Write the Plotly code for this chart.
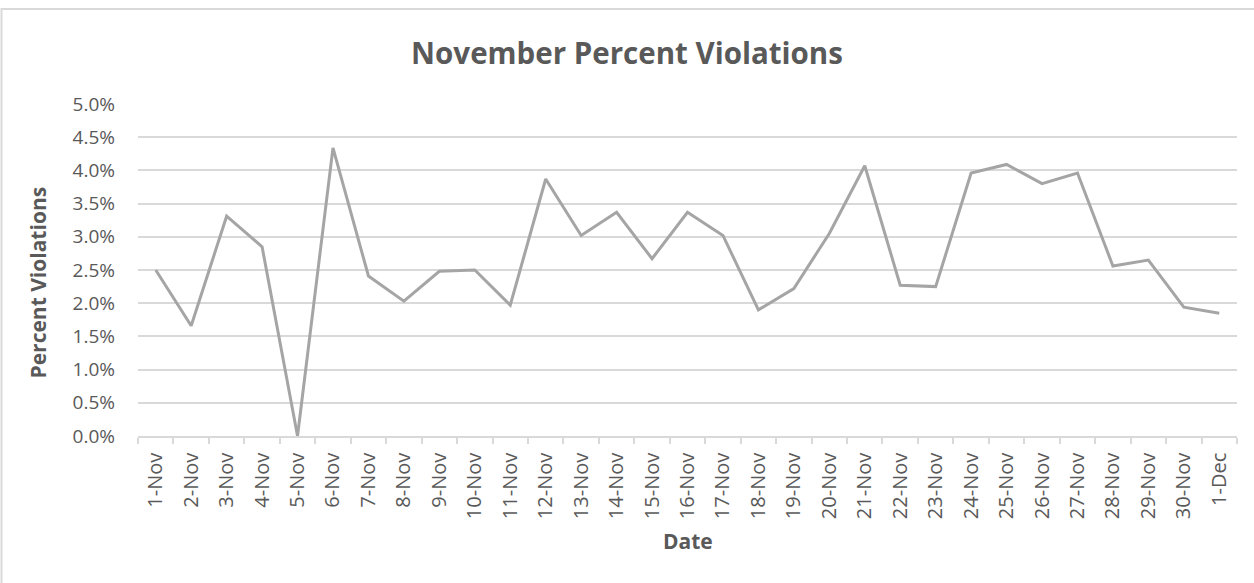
import plotly.graph_objects as go

dates = ["1-Nov", "2-Nov", "3-Nov", "4-Nov", "5-Nov", "6-Nov", "7-Nov", "8-Nov", "9-Nov", "10-Nov",
         "11-Nov", "12-Nov", "13-Nov", "14-Nov", "15-Nov", "16-Nov", "17-Nov", "18-Nov", "19-Nov", "20-Nov",
         "21-Nov", "22-Nov", "23-Nov", "24-Nov", "25-Nov", "26-Nov", "27-Nov", "28-Nov", "29-Nov", "30-Nov",
         "1-Dec"]
percent_violations = [0.0250, 0.0166, 0.0331, 0.0285, 0.0000, 0.0434, 0.0241, 0.0203, 0.0248, 0.0250,
                      0.0197, 0.0387, 0.0302, 0.0337, 0.0267, 0.0337, 0.0302, 0.0190, 0.0222, 0.0305,
                      0.0407, 0.0227, 0.0225, 0.0396, 0.0409, 0.0380, 0.0396, 0.0256, 0.0265, 0.0194,
                      0.0185]

TEXT = "#595959"
FONT = "Open Sans"

# plot area in pixels: x 138..1237, y 104..436
PW, PH = 1099, 332


def px(x):
    return (x - 138) / PW


def py(y):
    return (436 - y) / PH


fig = go.Figure()
fig.add_trace(go.Scatter(x=dates, y=percent_violations, mode="lines",
                         line=dict(color="#A5A5A5", width=3), hoverinfo="x+y"))

fig.update_layout(
    width=1254, height=583,
    paper_bgcolor="white", plot_bgcolor="white",
    margin=dict(l=138, r=17, t=104, b=147, autoexpand=False),
    showlegend=False,
    title=dict(text="<b>November Percent Violations</b>", x=0.5, xanchor="center",
               y=1 - 54 / 583, yanchor="middle",
               font=dict(family=FONT, size=29.5, color=TEXT)),
    font=dict(family=FONT, color=TEXT),
    shapes=[dict(type="rect", xref="paper", yref="paper", layer="below",
                 x0=px(1.5), x1=px(1270), y0=py(600), y1=py(9),
                 line=dict(color="#D9D9D9", width=2), fillcolor="rgba(0,0,0,0)")],
    annotations=[
        dict(text="<b>Percent Violations</b>", xref="paper", yref="paper",
             x=px(37), y=py(282.5), xanchor="center", yanchor="middle",
             textangle=-90, showarrow=False,
             font=dict(family=FONT, size=21, color=TEXT)),
        dict(text="<b>Date</b>", xref="paper", yref="paper",
             x=px(688), y=py(541), xanchor="center", yanchor="middle",
             showarrow=False, font=dict(family=FONT, size=21, color=TEXT)),
    ],
)

fig.update_xaxes(
    type="category", range=[-0.5, 30.5], automargin=False,
    showgrid=False, showline=True, linecolor="#D9D9D9", linewidth=1.5,
    ticks="outside", tickson="boundaries", ticklen=6, tickcolor="#D9D9D9", tickwidth=1.5,
    tickangle=-90, tickfont=dict(family=FONT, size=20, color=TEXT),
    ticklabelstandoff=7,
)
fig.update_yaxes(
    range=[0, 0.05], dtick=0.005, tickformat=".1%", automargin=False,
    showgrid=True, gridcolor="#D9D9D9", gridwidth=1.5,
    zeroline=False, showline=False, ticks="",
    tickfont=dict(family=FONT, size=19, color=TEXT),
    ticklabelstandoff=22,
)

fig.write_html("out.html",
               config={"displayModeBar": False},
               post_script="document.body.style.margin='0';document.body.style.overflow='hidden';")
